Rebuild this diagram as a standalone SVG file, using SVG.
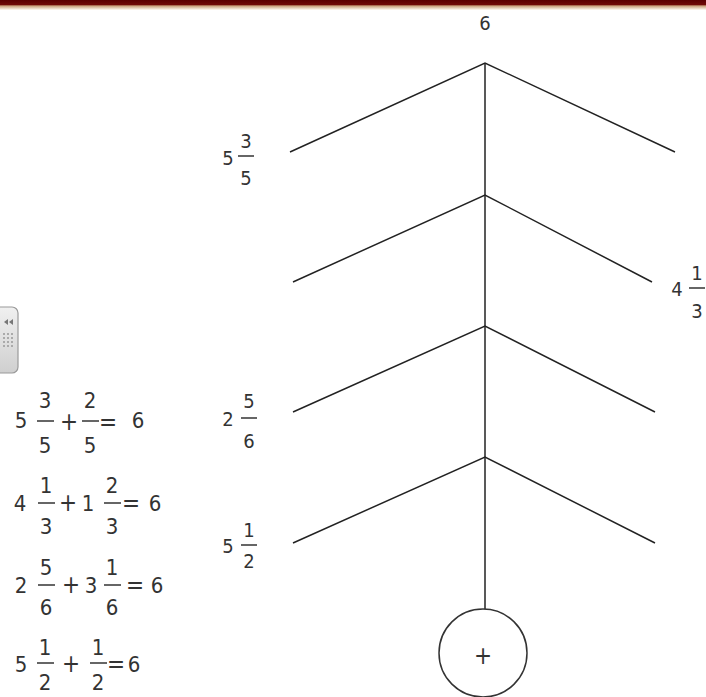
<svg xmlns="http://www.w3.org/2000/svg" width="706" height="697" viewBox="0 0 706 697">
<style>
.t{font-family:"DejaVu Sans Condensed","DejaVu Sans","Liberation Sans",sans-serif;font-stretch:condensed;fill:#333;text-anchor:middle}
.e{font-size:22px}
.o{font-size:24px}
.l{font-size:20px}
.bar{stroke:#333;stroke-width:1.5}
.br{stroke:#222;stroke-width:1.5;fill:none}
</style>
<defs>
<linearGradient id="top" x1="0" y1="0" x2="0" y2="1">
<stop offset="0" stop-color="#5a0000"/>
<stop offset="0.45" stop-color="#6e0a06"/>
<stop offset="0.6" stop-color="#c9a27a"/>
<stop offset="1" stop-color="#fffdf5"/>
</linearGradient>
<linearGradient id="btn" x1="0" y1="0" x2="0" y2="1">
<stop offset="0" stop-color="#f0f0f0"/>
<stop offset="1" stop-color="#cfcfcf"/>
</linearGradient>
</defs>
<rect width="706" height="697" fill="#fff"/>
<rect width="706" height="10" fill="url(#top)"/>
<g id="scroll-button">
<rect x="-8" y="307" width="26" height="66" rx="6" fill="url(#btn)" stroke="#9a9a9a" stroke-width="1.2"/>
<polygon points="4,322 8,319 8,325" fill="#777"/>
<polygon points="9,322 13,319 13,325" fill="#777"/>
<g fill="#aaa">
<rect x="3" y="333" width="2" height="2"/><rect x="7" y="333" width="2" height="2"/><rect x="11" y="333" width="2" height="2"/>
<rect x="3" y="337" width="2" height="2"/><rect x="7" y="337" width="2" height="2"/><rect x="11" y="337" width="2" height="2"/>
<rect x="3" y="341" width="2" height="2"/><rect x="7" y="341" width="2" height="2"/><rect x="11" y="341" width="2" height="2"/>
<rect x="3" y="345" width="2" height="2"/><rect x="7" y="345" width="2" height="2"/><rect x="11" y="345" width="2" height="2"/>
</g>
</g>
<g id="connectors">
<line class="br" x1="485" y1="63" x2="485" y2="609"/>
<polyline class="br" points="290,152 485,63 675,152"/>
<polyline class="br" points="293,282 485,195 652,282"/>
<polyline class="br" points="293,412 485,326 655,412"/>
<polyline class="br" points="293,543 485,457 655,543"/>
</g>
<g id="top-6"><text class="t l" x="485" y="30">6</text></g>
<g id="label-5-3-5">
<text class="t l" x="228" y="165">5</text>
<text class="t l" x="246" y="148">3</text>
<line class="bar" x1="238" y1="156" x2="254" y2="156"/>
<text class="t l" x="246" y="185">5</text>
</g>
<g id="label-4-1-3">
<text class="t l" x="677" y="296">4</text>
<text class="t l" x="697" y="280">1</text>
<line class="bar" x1="689" y1="288" x2="705" y2="288"/>
<text class="t l" x="697" y="318">3</text>
</g>
<g id="label-2-5-6">
<text class="t l" x="228" y="426">2</text>
<text class="t l" x="249" y="408">5</text>
<line class="bar" x1="241" y1="418" x2="257" y2="418"/>
<text class="t l" x="249" y="448">6</text>
</g>
<g id="label-5-1-2">
<text class="t l" x="228" y="553">5</text>
<text class="t l" x="249" y="537">1</text>
<line class="bar" x1="241" y1="545" x2="257" y2="545"/>
<text class="t l" x="249" y="568">2</text>
</g>
<g id="sum-node">
<circle cx="483" cy="653" r="44" fill="#fff" stroke="#333" stroke-width="1.5"/>
<text class="t" style="font-size:24px" x="483" y="664">+</text>
</g>
<g id="eq1">
<text class="t e" x="21" y="428">5</text>
<text class="t e" x="45" y="408">3</text>
<line class="bar" x1="37" y1="421" x2="54" y2="421"/>
<text class="t e" x="45" y="453">5</text>
<text class="t o" x="69" y="430">+</text>
<text class="t e" x="90" y="408">2</text>
<line class="bar" x1="82" y1="421" x2="99" y2="421"/>
<text class="t e" x="90" y="453">5</text>
<text class="t o" x="108" y="430">=</text>
<text class="t e" x="138" y="428">6</text>
</g>
<g id="eq2">
<text class="t e" x="20" y="511">4</text>
<text class="t e" x="46" y="493">1</text>
<line class="bar" x1="38" y1="503" x2="55" y2="503"/>
<text class="t e" x="46" y="534">3</text>
<text class="t o" x="68" y="511">+</text>
<text class="t e" x="88" y="511">1</text>
<text class="t e" x="112" y="493">2</text>
<line class="bar" x1="104" y1="503" x2="121" y2="503"/>
<text class="t e" x="112" y="534">3</text>
<text class="t o" x="131" y="511">=</text>
<text class="t e" x="155" y="511">6</text>
</g>
<g id="eq3">
<text class="t e" x="21" y="593">2</text>
<text class="t e" x="46" y="575">5</text>
<line class="bar" x1="38" y1="585" x2="55" y2="585"/>
<text class="t e" x="46" y="615">6</text>
<text class="t o" x="71" y="593">+</text>
<text class="t e" x="91" y="593">3</text>
<text class="t e" x="112" y="575">1</text>
<line class="bar" x1="104" y1="585" x2="121" y2="585"/>
<text class="t e" x="112" y="615">6</text>
<text class="t o" x="135" y="593">=</text>
<text class="t e" x="157" y="593">6</text>
</g>
<g id="eq4">
<text class="t e" x="21" y="672">5</text>
<text class="t e" x="45" y="655">1</text>
<line class="bar" x1="37" y1="663" x2="54" y2="663"/>
<text class="t e" x="45" y="690">2</text>
<text class="t o" x="71" y="672">+</text>
<text class="t e" x="98" y="655">1</text>
<line class="bar" x1="90" y1="663" x2="107" y2="663"/>
<text class="t e" x="98" y="690">2</text>
<text class="t o" x="116" y="672">=</text>
<text class="t e" x="134" y="672">6</text>
</g>
</svg>
